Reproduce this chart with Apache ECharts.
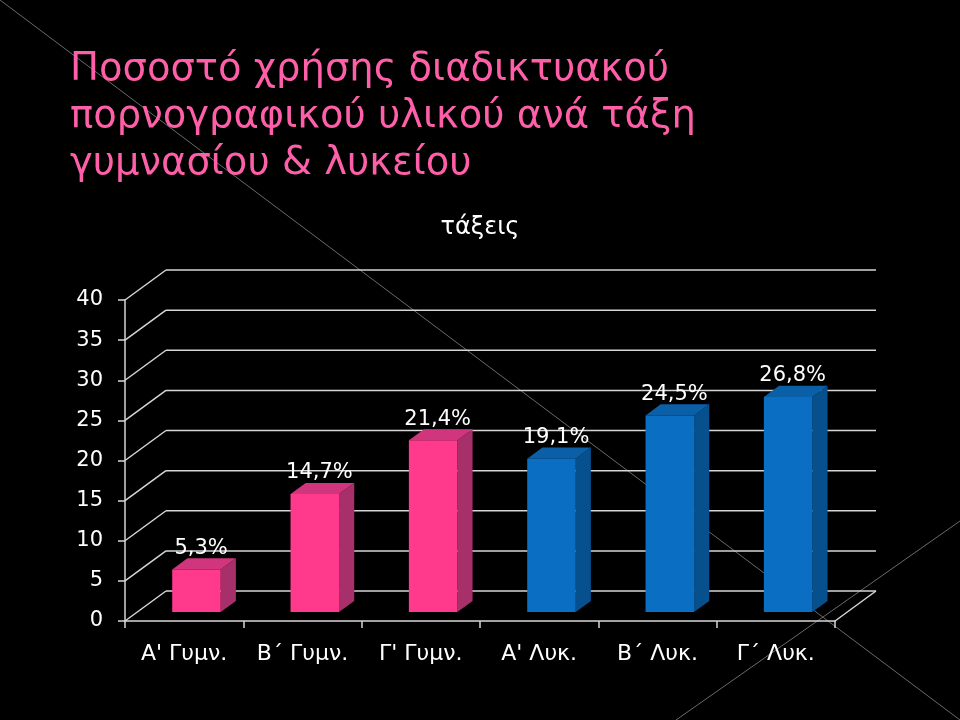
<!DOCTYPE html>
<html><head><meta charset="utf-8">
<script src="https://cdn.jsdelivr.net/npm/echarts@6/dist/echarts.min.js"></script>
<style>html,body{margin:0;padding:0;background:#000}#c{width:960px;height:720px}</style>
</head><body><div id="c"></div>
<script>
// ---- data ----
const titleLines = ['Ποσοστό χρήσης διαδικτυακού', 'πορνογραφικού υλικού ανά τάξη', 'γυμνασίου & λυκείου'];
const axisTitle = 'τάξεις';
const categories = ["Α' Γυμν.", "Β΄ Γυμν.", "Γ' Γυμν.", "Α' Λυκ.", "Β΄ Λυκ.", "Γ΄ Λυκ."];
const values = [5.3, 14.7, 21.4, 19.1, 24.5, 26.8];
const valueLabels = ['5,3%', '14,7%', '21,4%', '19,1%', '24,5%', '26,8%'];
const groups = ['gym', 'gym', 'gym', 'lyk', 'lyk', 'lyk'];
const yTicks = [0, 5, 10, 15, 20, 25, 30, 35, 40];

// ---- style ----
const DX = 41, DY = -30;          // full depth of the 3D box
const F0 = 0.3, F1 = 0.67;        // bar depth position
const GRID = '#d6d6d6';
const FONT = 'DejaVu Sans';
const palette = {
  gym: { front: '#FF3A8C', side: '#A8306A', top: '#D0357E' },
  lyk: { front: '#0A6FC2', side: '#07508E', top: '#0B5FA7' }
};

const chart = echarts.init(document.getElementById('c'), null, { renderer: 'canvas' });

function renderWall(params, api) {
  const v = api.value(1);
  const band = api.size([1, 0])[0];
  const p0 = api.coord([0, v]);
  const p1 = api.coord([categories.length - 1, v]);
  const xl = p0[0] - band / 2, xr = p1[0] + band / 2, y = p0[1];
  const st = { stroke: GRID, lineWidth: 1.5 };
  const children = [
    { type: 'line', shape: { x1: xl + DX, y1: y + DY, x2: xr + DX, y2: y + DY }, style: st },
    { type: 'line', shape: { x1: xl, y1: y, x2: xl + DX, y2: y + DY }, style: st }
  ];
  if (v === 0) children.push({ type: 'line', shape: { x1: xr, y1: y, x2: xr + DX, y2: y + DY }, style: st });
  return { type: 'group', children };
}

function renderBar(params, api) {
  const idx = api.value(0), val = api.value(1);
  const c = palette[groups[idx]];
  const base = api.coord([idx, 0]);
  const top = api.coord([idx, val]);
  const band = api.size([1, 0])[0];
  const w = band * 0.41;
  const x0 = base[0] - w / 2 + DX * F0, x1 = x0 + w;
  const yb = base[1] + DY * F0, yt = top[1] + DY * F0;
  const ddx = DX * (F1 - F0), ddy = DY * (F1 - F0);
  return {
    type: 'group',
    children: [
      { type: 'polygon', shape: { points: [[x1, yb], [x1, yt], [x1 + ddx, yt + ddy], [x1 + ddx, yb + ddy]] }, style: { fill: c.side } },
      { type: 'polygon', shape: { points: [[x0, yt], [x1, yt], [x1 + ddx, yt + ddy], [x0 + ddx, yt + ddy]] }, style: { fill: c.top } },
      { type: 'rect', shape: { x: x0, y: yt, width: w, height: yb - yt }, style: { fill: c.front } },
      { type: 'text', style: { text: valueLabels[idx], x: (x0 + x1) / 2 + ddx / 2 - 3, y: yt + ddy - 10, fill: '#fff',
          fontSize: 21, fontFamily: FONT, align: 'center', verticalAlign: 'middle' } }
    ]
  };
}

chart.setOption({
  backgroundColor: '#000',
  animation: false,
  title: [
    { text: titleLines.join('\n'), left: 70, top: 46, padding: 0,
      textStyle: { color: '#FF5FA8', fontSize: 38.5, lineHeight: 47, fontFamily: FONT, fontWeight: 'normal' } },
    { text: axisTitle, left: 'center', top: 214, padding: 0,
      textStyle: { color: '#fff', fontSize: 24, lineHeight: 28, fontFamily: FONT, fontWeight: 'normal' } }
  ],
  graphic: [
    { type: 'line', z: -1, silent: true, shape: { x1: 0, y1: 0, x2: 960, y2: 720 }, style: { stroke: '#6a6a6a', lineWidth: 1 } },
    { type: 'line', z: -1, silent: true, shape: { x1: 676, y1: 720, x2: 960, y2: 521 }, style: { stroke: '#6a6a6a', lineWidth: 1 } }
  ],
  grid: { left: 125, top: 300, width: 710, height: 321 },
  xAxis: {
    type: 'category', data: categories, boundaryGap: true,
    axisLine: { show: true, lineStyle: { color: GRID, width: 1.5 } },
    axisTick: { show: true, interval: 0, length: 7, lineStyle: { color: GRID, width: 1.5 } },
    axisLabel: { interval: 0, color: '#fff', fontSize: 22, fontFamily: FONT, margin: 22 },
    splitLine: { show: false }
  },
  yAxis: {
    type: 'value', min: 0, max: 40, interval: 5,
    axisLine: { show: true, lineStyle: { color: GRID, width: 1.5 } },
    axisTick: { show: true, length: 7, lineStyle: { color: GRID, width: 1.5 } },
    axisLabel: { color: '#fff', fontSize: 21, fontFamily: FONT, margin: 22 },
    splitLine: { show: false }
  },
  series: [
    { type: 'custom', name: 'wall', z: 1, silent: true, clip: false,
      data: yTicks.map(v => [0, v]), encode: { x: 0, y: 1 }, renderItem: renderWall },
    { type: 'custom', name: 'bars', z: 3, clip: false,
      data: values.map((v, i) => [i, v]), encode: { x: 0, y: 1 }, renderItem: renderBar }
  ]
});
</script>
</body></html>
